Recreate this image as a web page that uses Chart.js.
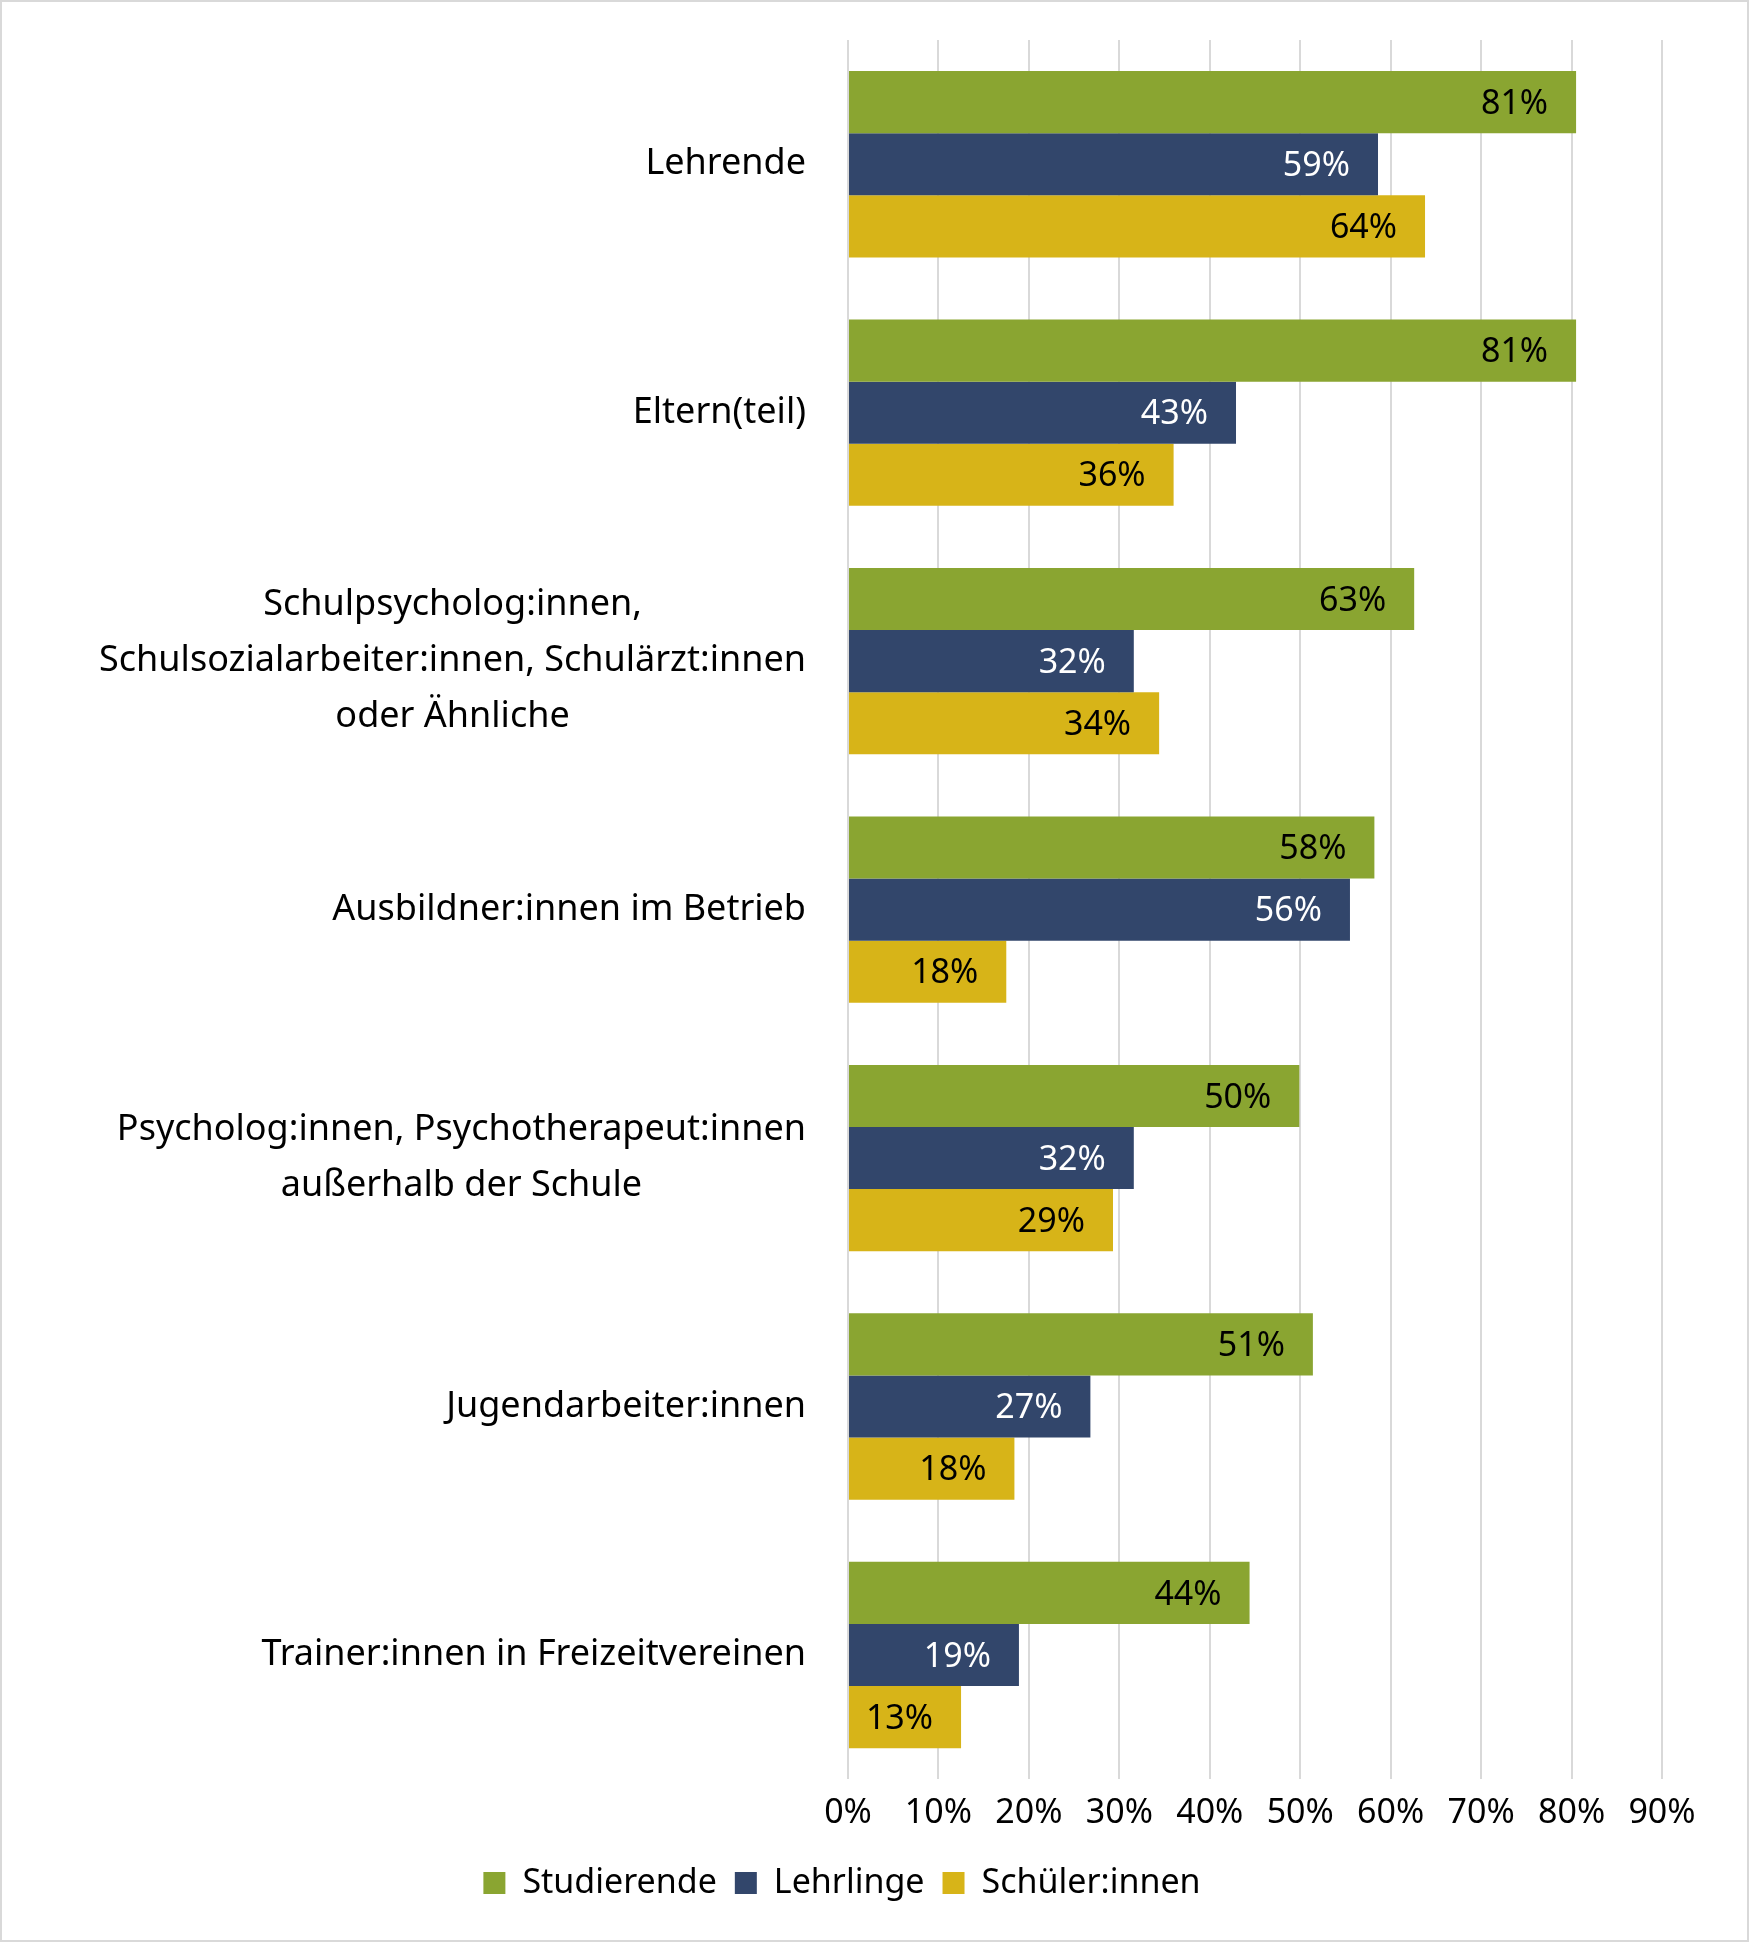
<!DOCTYPE html>
<html><head><meta charset="utf-8">
<script src="https://cdn.jsdelivr.net/npm/chart.js@4/dist/chart.umd.min.js"></script>
<style>
html,body{margin:0;padding:0;background:#fff;}
#wrap{width:1745px;height:1938px;border:2px solid #d9d9d9;position:relative;}
</style></head><body>
<div id="wrap"><canvas id="c"></canvas></div>
<script>
const categories = [
  'Lehrende',
  'Eltern(teil)',
  ['Schulpsycholog:innen,', 'Schulsozialarbeiter:innen, Schulärzt:innen', 'oder Ähnliche'],
  'Ausbildner:innen im Betrieb',
  ['Psycholog:innen, Psychotherapeut:innen', 'außerhalb der Schule'],
  'Jugendarbeiter:innen',
  'Trainer:innen in Freizeitvereinen'
];
const studierende = [80.5, 80.5, 62.6, 58.2, 49.9, 51.4, 44.4];
const lehrlinge = [58.6, 42.9, 31.6, 55.5, 31.6, 26.8, 18.9];
const schueler = [63.8, 36.0, 34.4, 17.5, 29.3, 18.4, 12.5];
const xTicks = [0, 10, 20, 30, 40, 50, 60, 70, 80, 90];

const font = 'Noto Sans';

const valueLabels = {
  id: 'valueLabels',
  afterDatasetsDraw(chart) {
    const ctx = chart.ctx;
    ctx.save();
    ctx.font = '34px "' + font + '"';
    ctx.textAlign = 'right';
    ctx.textBaseline = 'middle';
    chart.data.datasets.forEach((ds, i) => {
      chart.getDatasetMeta(i).data.forEach((bar, j) => {
        ctx.fillStyle = i === 1 ? '#ffffff' : '#000000';
        ctx.fillText(Math.round(ds.data[j]) + '%', bar.x - 28, bar.y + 2);
      });
    });
    ctx.restore();
  }
};

// category labels: block right-aligned, lines centred within the block
const categoryLabels = {
  id: 'categoryLabels',
  afterDraw(chart) {
    const ctx = chart.ctx;
    const y = chart.scales.y;
    const right = chart.chartArea.left - 42;
    const lh = 56;
    ctx.save();
    ctx.font = '36px "' + font + '"';
    ctx.fillStyle = '#000';
    ctx.textAlign = 'center';
    ctx.textBaseline = 'middle';
    categories.forEach((c, i) => {
      const lines = Array.isArray(c) ? c : [c];
      const w = Math.max(...lines.map(l => ctx.measureText(l).width));
      const cx = right - w / 2;
      const cy = y.getPixelForValue(i);
      lines.forEach((l, k) => {
        ctx.fillText(l, cx, cy + (k - (lines.length - 1) / 2) * lh);
      });
    });
    ctx.restore();
  }
};

new Chart(document.getElementById('c'), {
  type: 'bar',
  data: {
    labels: categories,
    datasets: [
      { label: 'Studierende', data: studierende, backgroundColor: '#8aa531' },
      { label: 'Lehrlinge', data: lehrlinge, backgroundColor: '#32466b' },
      { label: 'Schüler:innen', data: schueler, backgroundColor: '#d7b418' }
    ]
  },
  options: {
    indexAxis: 'y',
    responsive: true,
    maintainAspectRatio: false,
    animation: false,
    datasets: { bar: { categoryPercentage: 0.75, barPercentage: 1 } },
    layout: { padding: { top: 38, right: 85, bottom: 30, left: 20 } },
    plugins: {
      legend: {
        position: 'bottom',
        labels: { font: { family: font, size: 34 }, color: '#000', boxWidth: 22, boxHeight: 22, padding: 18 }
      },
      tooltip: { enabled: false }
    },
    scales: {
      x: {
        min: 0, max: 90,
        afterBuildTicks: (s) => { s.ticks = xTicks.map(v => ({ value: v })); },
        grid: { color: '#d9d9d9', lineWidth: 2, drawTicks: false },
        border: { display: false },
        ticks: { callback: (v) => v + '%', color: '#000', font: { family: font, size: 34 }, padding: 14 }
      },
      y: {
        grid: { display: false },
        border: { display: false },
        afterFit: (s) => { s.width = 826; },
        ticks: { display: false }
      }
    }
  },
  plugins: [valueLabels, categoryLabels]
});
</script>
</body></html>
